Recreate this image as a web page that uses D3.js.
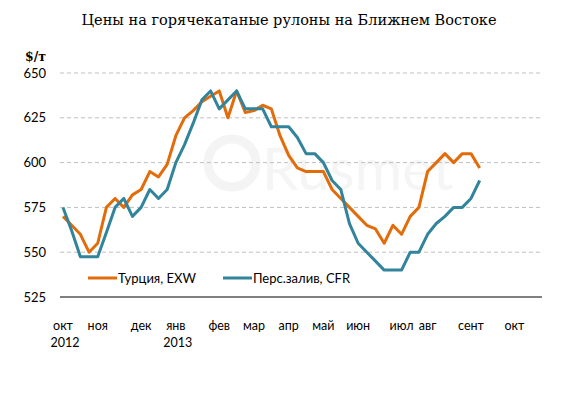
<!DOCTYPE html>
<html>
<head>
<meta charset="utf-8">
<title>Цены на горячекатаные рулоны</title>
<script src="https://d3js.org/d3.v7.min.js"></script>
<style>
  body { margin: 0; background: #fff; }
  svg text { font-family: Lato, "Open Sans", sans-serif; }
</style>
</head>
<body>
<div id="chart"></div>
<script>
// weekly prices, Oct 2012 - Sep 2013 ($/t)
const turkey = [570, 565, 560, 550, 555, 575, 580, 575, 582, 585, 595, 592, 599, 615, 625, 629, 634, 637, 640, 625,
  640, 628, 629, 632, 630, 615, 604, 597, 595, 595, 595, 585, 580, 575, 570, 565, 563, 555, 565, 560,
  570, 575, 595, 600, 605, 600, 605, 605, 597];
const gulf = [575, 562, 547.5, 547.5, 547.5, 561, 575, 580, 570, 575, 585, 580, 585, 600, 610, 622, 635, 640, 630, 635,
  640, 630, 630, 630, 620, 620, 620, 614, 605, 605, 600, 590, 585, 566, 555, 550, 545, 540, 540, 540,
  550, 550, 560, 566, 570, 575, 575, 580, 590];
const seriesNames = ["Турция, EXW", "Перс.залив, CFR"];
const seriesColors = ["#e36c0a", "#31849b"];
// month labels sit on the week index where each month starts
const monthLabels = ["окт", "ноя", "дек", "янв", "фев", "мар", "апр", "май", "июн", "июл", "авг", "сент", "окт"];
const monthIdx = [0, 4, 9, 13, 18, 22, 26, 30, 34, 39, 42, 47, 52];
const yearLabels = [{idx: 0, text: "2012"}, {idx: 13, text: "2013"}];
const yTicks = [525, 550, 575, 600, 625, 650];

const W = 579, H = 396;
const plot = {left: 60, right: 542, top: 73, bottom: 297};

const svg = d3.select("#chart").append("svg")
  .attr("width", W).attr("height", H);

const x = d3.scaleLinear().domain([0, 52]).range([63, 514.4]);
const y = d3.scaleLinear().domain([525, 650]).range([plot.bottom, plot.top]);

// faint watermark
const wm = svg.append("g").attr("opacity", 1);
wm.append("circle").attr("cx", 232).attr("cy", 163).attr("r", 24)
  .attr("fill", "none").attr("stroke", "#f4f4f4").attr("stroke-width", 9);
wm.append("text").attr("x", 262).attr("y", 190).text("Rusmet")
  .attr("font-size", 58).attr("fill", "#f5f5f5");

// title
svg.append("text")
  .attr("x", 289).attr("y", 25)
  .attr("text-anchor", "middle")
  .style("font-family", "'DejaVu Serif', serif")
  .attr("font-size", 14.5)
  .attr("fill", "#000")
  .text("Цены на горячекатаные рулоны на Ближнем Востоке");

// unit
svg.append("text")
  .attr("x", 25).attr("y", 61)
  .style("font-family", "'DejaVu Serif', serif")
  .attr("font-weight", "bold")
  .attr("font-size", 12.5)
  .text("$/т");

// grid
svg.append("g").selectAll("line")
  .data(yTicks.filter(d => d > 525))
  .join("line")
  .attr("x1", plot.left).attr("x2", plot.right)
  .attr("y1", d => y(d)).attr("y2", d => y(d))
  .attr("stroke", "#bfbfbf").attr("stroke-dasharray", "4,3");

// y labels
svg.append("g").selectAll("text")
  .data(yTicks)
  .join("text")
  .attr("x", 46).attr("y", d => y(d) + 4.5)
  .attr("text-anchor", "end")
  .attr("font-size", 13)
  .attr("fill", "#000")
  .text(d => d);

// x axis line
svg.append("line")
  .attr("x1", plot.left).attr("x2", plot.right)
  .attr("y1", plot.bottom).attr("y2", plot.bottom)
  .attr("stroke", "#000").attr("stroke-width", 1);

svg.append("g").selectAll("text")
  .data(monthLabels)
  .join("text")
  .attr("x", (d, i) => x(monthIdx[i]))
  .attr("y", 330)
  .attr("text-anchor", "middle")
  .attr("font-size", 12.5)
  .text(d => d);

svg.append("g").selectAll("text")
  .data(yearLabels)
  .join("text")
  .attr("x", d => x(d.idx) + 2)
  .attr("y", 347)
  .attr("text-anchor", "middle")
  .attr("font-size", 12.5)
  .text(d => d.text);

// lines
const line = d3.line().x((d, i) => x(i)).y(d => y(d));
[turkey, gulf].forEach((s, k) => {
  svg.append("path")
    .datum(s)
    .attr("d", line)
    .attr("fill", "none")
    .attr("stroke", seriesColors[k])
    .attr("stroke-width", 3)
    .attr("stroke-linejoin", "round");
});

// legend
const legX = [88, 223];
const leg = svg.append("g").selectAll("g")
  .data(seriesNames)
  .join("g")
  .attr("transform", (d, i) => `translate(${legX[i]},278)`);
leg.append("line").attr("x1", 0).attr("x2", 29)
  .attr("stroke", (d, i) => seriesColors[i]).attr("stroke-width", 3);
leg.append("text").attr("x", 30).attr("y", 4.5)
  .attr("font-size", 13).text(d => d);
</script>
</body>
</html>
